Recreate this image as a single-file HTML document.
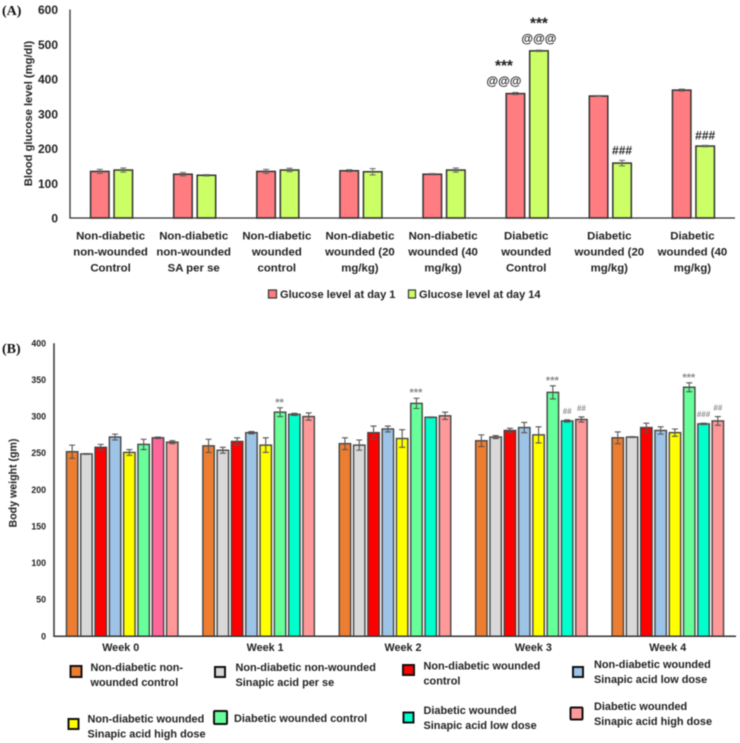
<!DOCTYPE html>
<html lang="en">
<head>
<meta charset="utf-8">
<title>Blood glucose and body weight charts</title>
<style>
  html, body { margin: 0; padding: 0; background: #fff; width: 740px; height: 743px; overflow: hidden; }
  svg { display: block; filter: blur(0.45px); }
  text { font-family: "Liberation Sans", sans-serif; font-weight: bold; fill: #222; }
  .panel { font-family: "Liberation Serif", serif; font-size: 14px; fill: #111; }
  .lg-a { font-size: 11.05px; }
  .lg-b { font-size: 10.9px; }
  .sw { stroke: #111; stroke-width: 2; }
</style>
</head>
<body>
<svg id="figure" xmlns="http://www.w3.org/2000/svg" width="740" height="743" viewBox="0 0 740 743">
  <rect width="740" height="743" fill="#fff"/>
  <text class="panel" x="2" y="15">(A)</text>
  <text class="panel" x="2" y="353">(B)</text>

  <g id="chartA"></g>
  <g id="chartB"></g>

  <g>
    <g>
      <rect x="268.5" y="290" width="8" height="8" fill="#FF7C80" stroke="#333" stroke-width="1.2"/>
      <text class="lg-a" x="280" y="298">Glucose level at day 1</text>
    </g>
    <g>
      <rect x="408.5" y="290" width="7" height="8" fill="#CCFF66" stroke="#333" stroke-width="1.2"/>
      <text class="lg-a" x="419" y="298">Glucose level at day 14</text>
    </g>
  </g>

  <g>
    <g>
      <rect class="sw" x="70.5" y="666" width="11" height="11" fill="#ED7D31"/>
      <text class="lg-b" x="90.5" y="671"><tspan x="90.5">Non-diabetic non-</tspan><tspan x="90.5" dy="15">wounded control</tspan></text>
    </g>
    <g>
      <rect class="sw" x="215" y="667" width="10" height="10" fill="#D9D9D9"/>
      <text class="lg-b" x="235.5" y="671"><tspan x="235.5">Non-diabetic non-wounded</tspan><tspan x="235.5" dy="15">Sinapic acid per se</tspan></text>
    </g>
    <g>
      <rect class="sw" x="403" y="665" width="11" height="10" fill="#FF0000"/>
      <text class="lg-b" x="423.5" y="669.5"><tspan x="423.5">Non-diabetic wounded</tspan><tspan x="423.5" dy="15">control</tspan></text>
    </g>
    <g>
      <rect class="sw" x="573" y="667" width="10" height="10" fill="#9DC3E6"/>
      <text class="lg-b" x="594" y="668"><tspan x="594">Non-diabetic wounded</tspan><tspan x="594" dy="15">Sinapic acid low dose</tspan></text>
    </g>
    <g>
      <rect class="sw" x="68.5" y="719" width="10" height="10" fill="#FFFF00"/>
      <text class="lg-b" x="87.5" y="722.5"><tspan x="87.5">Non-diabetic wounded</tspan><tspan x="87.5" dy="15">Sinapic acid high dose</tspan></text>
    </g>
    <g>
      <rect class="sw" x="214" y="711" width="13" height="13" rx="1" fill="#66FF99"/>
      <text class="lg-b" x="234" y="722">Diabetic wounded control</text>
    </g>
    <g>
      <rect class="sw" x="403.5" y="712.5" width="10" height="10" fill="#00FFCC"/>
      <text class="lg-b" x="423.5" y="714"><tspan x="423.5">Diabetic wounded</tspan><tspan x="423.5" dy="15">Sinapic acid low dose</tspan></text>
    </g>
    <g>
      <rect class="sw" x="570.5" y="707.5" width="12" height="12" rx="1" fill="#FF9999"/>
      <text class="lg-b" x="594" y="710"><tspan x="594">Diabetic wounded</tspan><tspan x="594" dy="15">Sinapic acid high dose</tspan></text>
    </g>
  </g>
</svg>

<script>
// ---- Chart A data ----
const glucoseCategories = [
  ["Non-diabetic", "non-wounded", "Control"],
  ["Non-diabetic", "non-wounded", "SA per se"],
  ["Non-diabetic", "wounded", "control"],
  ["Non-diabetic", "wounded (20", "mg/kg)"],
  ["Non-diabetic", "wounded (40", "mg/kg)"],
  ["Diabetic", "wounded", "Control"],
  ["Diabetic", "wounded (20", "mg/kg)"],
  ["Diabetic", "wounded (40", "mg/kg)"]
];
const glucoseDay1 = [134, 126, 134, 136, 126, 358, 351, 368];
const glucoseDay14 = [138, 123, 138, 133, 138, 481, 158, 207];
const glucoseDay1Err = [6, 5, 6, 3, 2, 3, 1.5, 3];
const glucoseDay14Err = [6, 2, 5, 9, 6, 2, 8, 2];
const glucoseTicks = [0, 100, 200, 300, 400, 500, 600];
const glucoseAnnotations = [
  { group: 5, series: 0, lines: ["***", "@@@"] },
  { group: 5, series: 1, lines: ["***", "@@@"] },
  { group: 6, series: 1, lines: ["###"] },
  { group: 7, series: 1, lines: ["###"] }
];

// ---- Chart B data ----
const weekLabels = ["Week 0", "Week 1", "Week 2", "Week 3", "Week 4"];
const weightTicks = [0, 50, 100, 150, 200, 250, 300, 350, 400];
const weightNonDiabeticControl = [252, 260, 263, 267, 271];
const weightSinapicPerSe = [249, 254, 261, 272, 272];
const weightWoundedControl = [258, 266, 278, 281, 285];
const weightWoundedLow = [272, 278, 283, 285, 281];
const weightWoundedHigh = [251, 261, 270, 275, 278];
const weightDiabeticControl = [262, 306, 318, 333, 340];
const weightDiabeticLow = [271, 303, 299, 294, 290];
const weightDiabeticHigh = [265, 300, 301, 296, 294];
const errNonDiabeticControl = [9, 9, 8, 8, 8];
const errSinapicPerSe = [0.5, 4, 7, 2, 0.5];
const errWoundedControl = [4, 5, 9, 3, 6];
const errWoundedLow = [4, 1.5, 4, 7, 5];
const errWoundedHigh = [4, 10, 12, 11, 5];
const errDiabeticControl = [7, 6, 7, 9, 6];
const errDiabeticLow = [1, 1.5, 0.5, 1.5, 1];
const errDiabeticHigh = [2, 5, 5, 3.5, 6];
const weightAnnotations = [
  { group: 1, series: 5, text: "**" },
  { group: 2, series: 5, text: "***" },
  { group: 3, series: 5, text: "***" },
  { group: 3, series: 6, text: "##" },
  { group: 3, series: 7, text: "##" },
  { group: 4, series: 5, text: "***" },
  { group: 4, series: 6, text: "###" },
  { group: 4, series: 7, text: "##" }
];

const NS = "http://www.w3.org/2000/svg";
function make(parent, tag, props) {
  const el = document.createElementNS(NS, tag);
  for (const k in props) el.setAttribute(k, props[k]);
  parent.appendChild(el);
  return el;
}

// ---- Draw chart A ----
(function () {
  const root = document.getElementById("chartA");
  const x0 = 70, x1 = 735, yBase = 218, yTop = 9.5, maxV = 600;
  const y = v => yBase - (v / maxV) * (yBase - yTop);
  const groupW = (x1 - x0) / glucoseCategories.length;
  const cx = i => x0 + groupW * (i + 0.5);
  const barW = 18.5, off = 11.75;
  const series = [
    { name: "day-1", vals: glucoseDay1, errs: glucoseDay1Err, color: "#FF7C80", sign: -1 },
    { name: "day-14", vals: glucoseDay14, errs: glucoseDay14Err, color: "#CCFF66", sign: 1 }
  ];

  glucoseTicks.forEach(t => {
    const lab = make(root, "text", { x: 58, y: y(t) + 4.5, "text-anchor": "end", "font-size": 12 });
    lab.textContent = t;
    
    
  });

  const title = make(root, "text", { transform: "translate(32,113.5) rotate(-90)", "text-anchor": "middle", "font-size": 11.2 });
  title.textContent = "Blood glucose level (mg/dl)";
  
  

  series.forEach(s => {
    s.vals.forEach((v, i) => {
      const bx = cx(i) + s.sign * off - barW / 2;
      const bar = make(root, "rect", { x: bx, y: y(v), width: barW, height: yBase - y(v), fill: s.color, stroke: "#333", "stroke-width": 1.5 });
      
      
      const ex = bx + barW / 2;
      const hi = y(v + s.errs[i]), lo = y(v - s.errs[i]);
      const err = make(root, "path", { d: `M${ex - 3} ${hi}H${ex + 3}M${ex} ${hi}V${lo}M${ex - 3} ${lo}H${ex + 3}`, stroke: "#666", "stroke-width": 1, fill: "none" });
      
      
    });
  });

  const axisPath = make(root, "path", { d: `M${x0} ${yTop}V${yBase}H${x1}`, stroke: "#333", "stroke-width": 1.3, fill: "none" });
  
  

  glucoseCategories.forEach((lines, i) => {
    lines.forEach((line, j) => {
      const lab = make(root, "text", { x: cx(i) - 1, y: 239.5 + j * 16, "text-anchor": "middle", "font-size": 11.4 });
      lab.textContent = line;
      
      
    });
  });

  glucoseAnnotations.forEach(a => {
    const s = series[a.series];
    const top = y(s.vals[a.group] + s.errs[a.group]);
    const shift = a.series === 0 ? -11.5 : 0;
    const ax = cx(a.group) + s.sign * off + shift;
    a.lines.forEach(line => {
      const isStar = line === "***";
      const isAt = line === "@@@";
      const ay = isStar ? top - 21.5 : (isAt ? top - 7.5 : top - 6);
      const t = make(root, "text", { x: ax, y: ay, "text-anchor": "middle", "font-size": isStar ? 15.4 : 12 });
      t.textContent = line;
      
      
    });
  });
})();

// ---- Draw chart B ----
(function () {
  const root = document.getElementById("chartB");
  const x0 = 54, x1 = 736, yBase = 636.3, yTop = 343.3, maxV = 400;
  const y = v => yBase - (v / maxV) * (yBase - yTop);
  const groupW = (x1 - x0) / weekLabels.length;
  const cx = i => x0 + groupW * (i + 0.5);
  const pitch = 14.3, barW = 11.4;
  const labelNudge = [-1.5, 6.5, 8, 2, 0];
  const series = [
    { name: "nondiabetic-control", vals: weightNonDiabeticControl, errs: errNonDiabeticControl, color: "#ED7D31" },
    { name: "sinapic-per-se", vals: weightSinapicPerSe, errs: errSinapicPerSe, color: "#D9D9D9" },
    { name: "wounded-control", vals: weightWoundedControl, errs: errWoundedControl, color: "#FF0000" },
    { name: "wounded-low-dose", vals: weightWoundedLow, errs: errWoundedLow, color: "#9DC3E6" },
    { name: "wounded-high-dose", vals: weightWoundedHigh, errs: errWoundedHigh, color: "#FFFF00" },
    { name: "diabetic-control", vals: weightDiabeticControl, errs: errDiabeticControl, color: "#66FF99" },
    { name: "diabetic-low-dose", vals: weightDiabeticLow, errs: errDiabeticLow, color: "#00FFCC", firstColor: "#FF6699" },
    { name: "diabetic-high-dose", vals: weightDiabeticHigh, errs: errDiabeticHigh, color: "#FF9999" }
  ];
  const barCx = (g, si) => cx(g) + (si - 3.5) * pitch;

  weightTicks.forEach(t => {
    const lab = make(root, "text", { x: 46, y: y(t) + 3, "text-anchor": "end", "font-size": 8.8 });
    lab.textContent = t;
    
    
  });

  const title = make(root, "text", { transform: "translate(16.5,483) rotate(-90)", "text-anchor": "middle", "font-size": 10.6 });
  title.textContent = "Body weight (gm)";
  
  

  series.forEach((s, si) => {
    s.vals.forEach((v, g) => {
      const c = barCx(g, si);
      const fill = (g === 0 && s.firstColor) ? s.firstColor : s.color;
      const bar = make(root, "rect", { x: c - barW / 2, y: y(v), width: barW, height: yBase - y(v), fill: fill, stroke: "#444", "stroke-width": 1.4 });
      
      
      const hi = y(v + s.errs[g]), lo = y(v - s.errs[g]);
      const err = make(root, "path", { d: `M${c - 3} ${hi}H${c + 3}M${c} ${hi}V${lo}M${c - 3} ${lo}H${c + 3}`, stroke: "#555", "stroke-width": 1.1, fill: "none" });
      
      
    });
  });

  const axisPath = make(root, "path", { d: `M${x0} ${yTop}V${yBase}H${x1}`, stroke: "#333", "stroke-width": 1.5, fill: "none" });
  
  

  weekLabels.forEach((w, i) => {
    const lab = make(root, "text", { x: cx(i) + labelNudge[i], y: 651, "text-anchor": "middle", "font-size": 10.8 });
    lab.textContent = w;
    
    
  });

  weightAnnotations.forEach(a => {
    const s = series[a.series];
    const top = y(s.vals[a.group] + s.errs[a.group]);
    const isHash = a.text.charAt(0) === "#";
    const t = make(root, "text", { x: barCx(a.group, a.series) + (isHash ? 0 : -0.5), y: top - (isHash ? 6 : 2), "text-anchor": "middle", "font-size": isHash ? 8 : 11, "font-weight": "normal", style: "fill:#8a8a8a" });
    t.textContent = a.text;
    
    
  });
})();
</script>
</body>
</html>
